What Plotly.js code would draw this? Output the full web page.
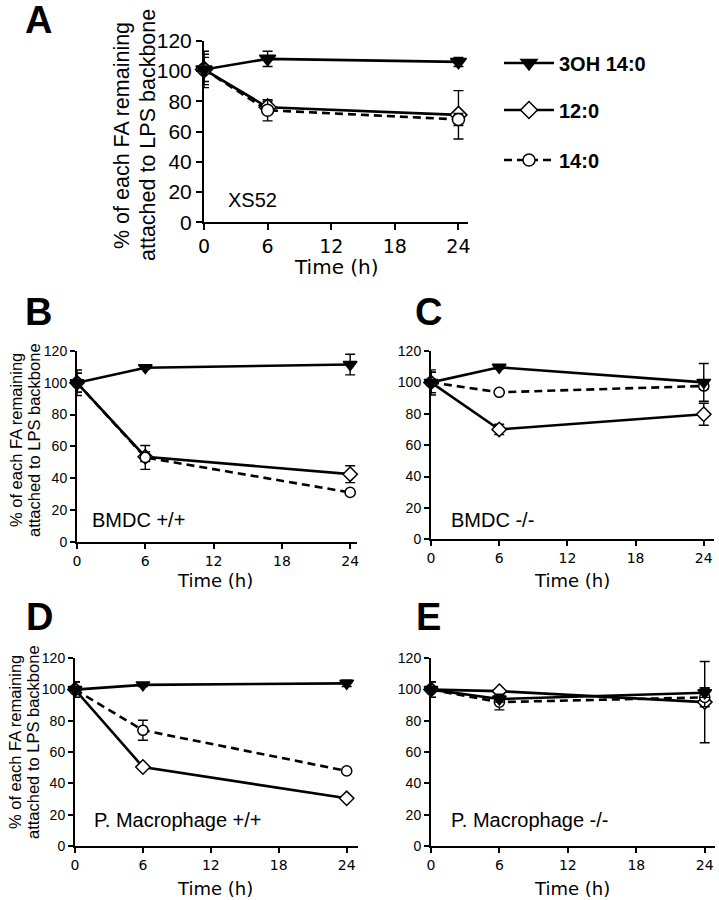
<!DOCTYPE html>
<html>
<head>
<meta charset="utf-8">
<script src="https://cdn.plot.ly/plotly-3.0.1.min.js"></script>
<style>html,body{margin:0;padding:0;background:#fff;}#chart{width:719px;height:900px;}</style>
</head>
<body>
<div id="chart"></div>
<script>
// ---- data ----
const time = [0, 6, 24];
const xTickVals = [0, 6, 12, 18, 24];
const yTickVals = [0, 20, 40, 60, 80, 100, 120];
const seriesNames = ["3OH 14:0", "12:0", "14:0"];

// Panel A: XS52
const ohA = [101, 108, 106];   const ohAErr = [8, 5, 3];
const c12A = [101, 76, 71];    const c12AErr = [10, 4, 16];
const c14A = [101, 74, 68];    const c14AErr = [12, 7, 4];
// Panel B: BMDC +/+
const ohB = [100, 109.5, 111.5]; const ohBErr = [6, 1, 6.5];
const c12B = [100, 53.5, 42.5];  const c12BErr = [8, 3, 5.3];
const c14B = [100, 53, 31];      const c14BErr = [6, 7.5, 1];
// Panel C: BMDC -/-
const ohC = [100, 109.6, 100];   const ohCErr = [6.5, 1, 12];
const c12C = [100, 70, 79.7];    const c12CErr = [8, 3.3, 7];
const c14C = [100, 93.7, 97.7];  const c14CErr = [6.5, 1, 2];
// Panel D: P. Macrophage +/+
const ohD = [100, 103, 104];     const ohDErr = [5, 1, 2];
const c12D = [100, 50.5, 30.5];  const c12DErr = [5, 1, 1];
const c14D = [100, 74, 48];      const c14DErr = [5, 6.4, 1];
// Panel E: P. Macrophage -/-
const ohE = [100, 94, 98];       const ohEErr = [5, 2, 3];
const c12E = [100, 99, 92];      const c12EErr = [5, 1, 26];
const c14E = [100, 92, 95];      const c14EErr = [5, 5, 6];

const panelLabels = ["A", "B", "C", "D", "E"];
const panelTexts = ["XS52", "BMDC +/+", "BMDC -/-", "P. Macrophage +/+", "P. Macrophage -/-"];
const yTitle1 = "% of each FA remaining";
const yTitle2 = "attached to LPS backbone";
const xTitle = "Time (h)";

// ---- helpers ----
const W = 719, H = 900;
const px = x => x / W;
const py = y => 1 - y / H;
const ARIAL = "Liberation Sans, Arial, sans-serif";
const VERD = "DejaVu Sans, Verdana, sans-serif";

function mkTraces(sets, ax, isA) {
  const xa = 'x' + ax, ya = 'y' + ax;
  const s = isA ? 1 : 0.85;
  const specs = [
    {y: sets[1], e: sets[4], name: seriesNames[1], sym: 'diamond', fill: '#fff', size: 13*s, dash: 'solid', leg: 'legend2'},
    {y: sets[2], e: sets[5], name: seriesNames[2], sym: 'circle', fill: '#fff', size: 12*s, dash: '8px,5px', leg: 'legend3'},
    {y: sets[0], e: sets[3], name: seriesNames[0], sym: 'triangle-down', fill: '#000', size: 14*s, dash: 'solid', leg: 'legend'}
  ];
  return specs.map(sp => ({
    type: 'scatter', mode: 'lines+markers', x: time, y: sp.y, name: sp.name,
    xaxis: xa, yaxis: ya, cliponaxis: false,
    showlegend: isA, legend: sp.leg,
    line: {color: '#000', width: 2.6, dash: sp.dash},
    marker: {symbol: sp.sym, size: sp.size, color: sp.fill, line: {color: '#000', width: 1.5}},
    error_y: {type: 'data', array: sp.e, visible: true, color: '#000', thickness: 1.4, width: 5}
  }));
}

const data = [].concat(
  mkTraces([ohA, c12A, c14A, ohAErr, c12AErr, c14AErr], '', true),
  mkTraces([ohB, c12B, c14B, ohBErr, c12BErr, c14BErr], '2', false),
  mkTraces([ohC, c12C, c14C, ohCErr, c12CErr, c14CErr], '3', false),
  mkTraces([ohD, c12D, c14D, ohDErr, c12DErr, c14DErr], '4', false),
  mkTraces([ohE, c12E, c14E, ohEErr, c12EErr, c14EErr], '5', false)
);

// panel geometry in pixels: [left, right, top(y=120), bottom(y=0), xmax]
const geo = [
  [204, 468, 40.7, 222.3, 24.9],
  [77, 357, 351, 541.7, 24.6],
  [431, 714, 351, 539.3, 24.9],
  [75, 358, 658.3, 846, 25.0],
  [431, 715, 658.3, 846, 24.9]
];

function xAxis(g, ya, big) {
  return {domain: [px(g[0]), px(g[1])], range: [0, g[4]], anchor: ya,
    tickvals: xTickVals, ticks: 'outside', ticklen: big ? 6 : 5, tickwidth: 2, tickcolor: '#000',
    showline: true, linecolor: '#000', linewidth: 2, showgrid: false, zeroline: false,
    tickfont: {family: VERD, size: big ? 19 : 14, color: '#000'}};
}
function yAxis(g, xa, big) {
  return {domain: [py(g[3]), py(g[2])], range: [0, 120], anchor: xa,
    tickvals: yTickVals, ticks: 'outside', ticklen: big ? 6 : 5, tickwidth: 2, tickcolor: '#000',
    showline: true, linecolor: '#000', linewidth: 2, showgrid: false, zeroline: false,
    tickfont: {family: ARIAL, size: big ? 21 : 14, color: '#000'}};
}

const legFont = {family: ARIAL, size: 20, weight: 700, color: '#000'};
const layout = {
  width: W, height: H, margin: {l: 0, r: 0, t: 0, b: 0},
  paper_bgcolor: '#fff', plot_bgcolor: 'rgba(0,0,0,0)',
  xaxis: xAxis(geo[0], 'y', true), yaxis: yAxis(geo[0], 'x', true),
  xaxis2: xAxis(geo[1], 'y2', false), yaxis2: yAxis(geo[1], 'x2', false),
  xaxis3: xAxis(geo[2], 'y3', false), yaxis3: yAxis(geo[2], 'x3', false),
  xaxis4: xAxis(geo[3], 'y4', false), yaxis4: yAxis(geo[3], 'x4', false),
  xaxis5: xAxis(geo[4], 'y5', false), yaxis5: yAxis(geo[4], 'x5', false),
  legend: {x: px(499), y: py(63), xanchor: 'left', yanchor: 'middle', bgcolor: 'rgba(0,0,0,0)', itemwidth: 50, font: legFont},
  legend2: {x: px(499), y: py(110), xanchor: 'left', yanchor: 'middle', bgcolor: 'rgba(0,0,0,0)', itemwidth: 50, font: legFont},
  legend3: {x: px(499), y: py(160), xanchor: 'left', yanchor: 'middle', bgcolor: 'rgba(0,0,0,0)', itemwidth: 50, font: legFont},
  annotations: []
};

const ann = layout.annotations;
function addText(text, x, y, size, family, opts) {
  ann.push(Object.assign({text: text, x: px(x), y: py(y), xref: 'paper', yref: 'paper',
    showarrow: false, xanchor: 'center', yanchor: 'middle',
    font: {family: family, size: size, color: '#000'}}, opts || {}));
}
// panel letters
const letterPos = [[38, 20], [38, 312], [428, 312], [39, 617], [428, 617]];
letterPos.forEach((p, i) => addText(panelLabels[i], p[0], p[1], 38, ARIAL, {font: {family: ARIAL, size: 38, weight: 700, color: '#000'}}));
// panel inner labels
const textPos = [[252, 200, 20], [138, 520, 20], [492, 520, 20], [178, 820, 20], [530, 820, 20]];
textPos.forEach((p, i) => addText(panelTexts[i], p[0], p[1], p[2], ARIAL));
// x titles
[[336, 267, 20], [215, 580, 18], [572, 580, 18], [215, 888, 18], [572, 888, 18]].forEach(p => addText(xTitle, p[0], p[1], p[2], VERD));
// y titles (two lines)
[[122, 148, 135, 21.5], [16, 34, 440, 16.5], [15, 33, 742, 16.5]].forEach(p => {
  addText(yTitle1, p[0], p[2], p[3], ARIAL, {textangle: -90});
  addText(yTitle2, p[1], p[2], p[3], ARIAL, {textangle: -90});
});

Plotly.newPlot('chart', data, layout, {staticPlot: true});
</script>
</body>
</html>
